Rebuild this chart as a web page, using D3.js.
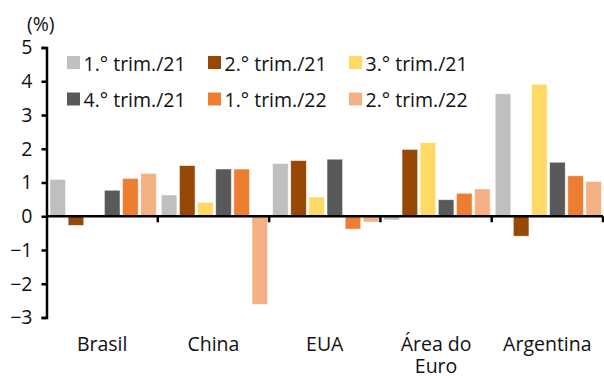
<!DOCTYPE html>
<html>
<head>
<meta charset="utf-8">
<script src="https://cdn.jsdelivr.net/npm/d3@7"></script>
<style>
  html, body { margin: 0; padding: 0; background: #fff; }
  svg text { font-family: "Open Sans", "Noto Sans", sans-serif; fill: #111; }
</style>
</head>
<body>
<svg id="chart" width="604" height="376"></svg>
<script>
// GDP growth by quarter (%), per economy
const categories = ["Brasil", "China", "EUA", "Área do Euro", "Argentina"];
const categoryLines = [["Brasil"], ["China"], ["EUA"], ["Área do", "Euro"], ["Argentina"]];
const seriesNames = ["1.° trim./21", "2.° trim./21", "3.° trim./21", "4.° trim./21", "1.° trim./22", "2.° trim./22"];
const q1_21 = [1.09, 0.63, 1.56, -0.11, 3.63];
const q2_21 = [-0.27, 1.50, 1.65, 1.98, -0.59];
const q3_21 = [0.04, 0.41, 0.57, 2.18, 3.91];
const q4_21 = [0.77, 1.40, 1.69, 0.49, 1.60];
const q1_22 = [1.12, 1.40, -0.38, 0.68, 1.20];
const q2_22 = [1.27, -2.61, -0.17, 0.81, 1.03];
const seriesValues = [q1_21, q2_21, q3_21, q4_21, q1_22, q2_22];
const yTicks = [-3, -2, -1, 0, 1, 2, 3, 4, 5];
const colors = ["#BFBFBF", "#974706", "#FFD966", "#595959", "#ED7D31", "#F4B183"];

const FONT = 19.5;
const svg = d3.select("#chart");
const plotLeft = 46.5, plotRight = 603, plotTop = 47.5, plotBottom = 317.5;

const x0 = d3.scaleBand().domain(categories).range([plotLeft, plotRight]).paddingInner(0).paddingOuter(0);
const x1 = d3.scaleBand().domain(d3.range(seriesNames.length))
  .range([3.5, x0.bandwidth() - 1.5]).paddingInner(0.14).paddingOuter(0);
const y = d3.scaleLinear().domain([-3, 5]).range([plotBottom, plotTop]);

// Bars
const groups = svg.append("g").selectAll("g")
  .data(categories).join("g")
  .attr("transform", d => `translate(${x0(d)},0)`);

groups.selectAll("rect")
  .data((c, ci) => seriesValues.map((vals, si) => ({ si, v: vals[ci] })))
  .join("rect")
  .attr("x", d => x1(d.si))
  .attr("width", x1.bandwidth())
  .attr("y", d => y(Math.max(0, d.v)))
  .attr("height", d => Math.abs(y(d.v) - y(0)))
  .attr("fill", d => colors[d.si])
  .attr("stroke", "#fff")
  .attr("stroke-opacity", 0.6)
  .attr("stroke-width", 0.8);

// Y axis
const yAxis = svg.append("g")
  .attr("transform", `translate(${plotLeft},0)`)
  .call(d3.axisLeft(y).tickValues(yTicks).tickSize(5).tickPadding(9).tickFormat(d3.format("d")));
yAxis.select(".domain").attr("stroke", "#000").attr("stroke-width", 2.5);
yAxis.selectAll(".tick line").attr("stroke", "#000").attr("stroke-width", 2.5);
yAxis.selectAll(".tick text").attr("font-size", FONT).attr("fill", "#111")
  .attr("font-family", "'Open Sans', 'Noto Sans', sans-serif");

// X axis along zero
const xAxisG = svg.append("g").attr("transform", `translate(0,${y(0)})`);
xAxisG.append("line")
  .attr("x1", plotLeft).attr("x2", plotRight)
  .attr("stroke", "#000").attr("stroke-width", 2.5);
const boundaries = categories.map(c => x0(c) + x0.bandwidth());
xAxisG.selectAll("line.tick").data(boundaries).join("line")
  .attr("class", "tick")
  .attr("x1", d => d).attr("x2", d => d)
  .attr("y1", 0).attr("y2", 6)
  .attr("stroke", "#000").attr("stroke-width", 2.5);

// Category labels below the plot, one text per line
const labelG = svg.append("g");
categories.forEach((c, ci) => {
  categoryLines[ci].forEach((line, li) => {
    labelG.append("text")
      .attr("x", x0(c) + x0.bandwidth() / 2)
      .attr("y", 351 + li * 21.5)
      .attr("text-anchor", "middle")
      .attr("font-size", FONT)
      .text(line);
  });
});

// Unit label
svg.append("text").attr("x", 27).attr("y", 31).attr("font-size", FONT).text("(%)");

// Legend
const legendCols = [67, 208, 349];
const legendRows = [62.5, 99];
const legend = svg.append("g").selectAll("g")
  .data(seriesNames).join("g")
  .attr("transform", (d, i) => `translate(${legendCols[i % 3]},${legendRows[Math.floor(i / 3)]})`);
legend.append("rect")
  .attr("x", 0).attr("y", -6.5).attr("width", 13).attr("height", 13)
  .attr("fill", (d, i) => colors[i]);
legend.append("text")
  .attr("x", 16.5).attr("y", 8)
  .attr("font-size", FONT)
  .text(d => d);
</script>
</body>
</html>
